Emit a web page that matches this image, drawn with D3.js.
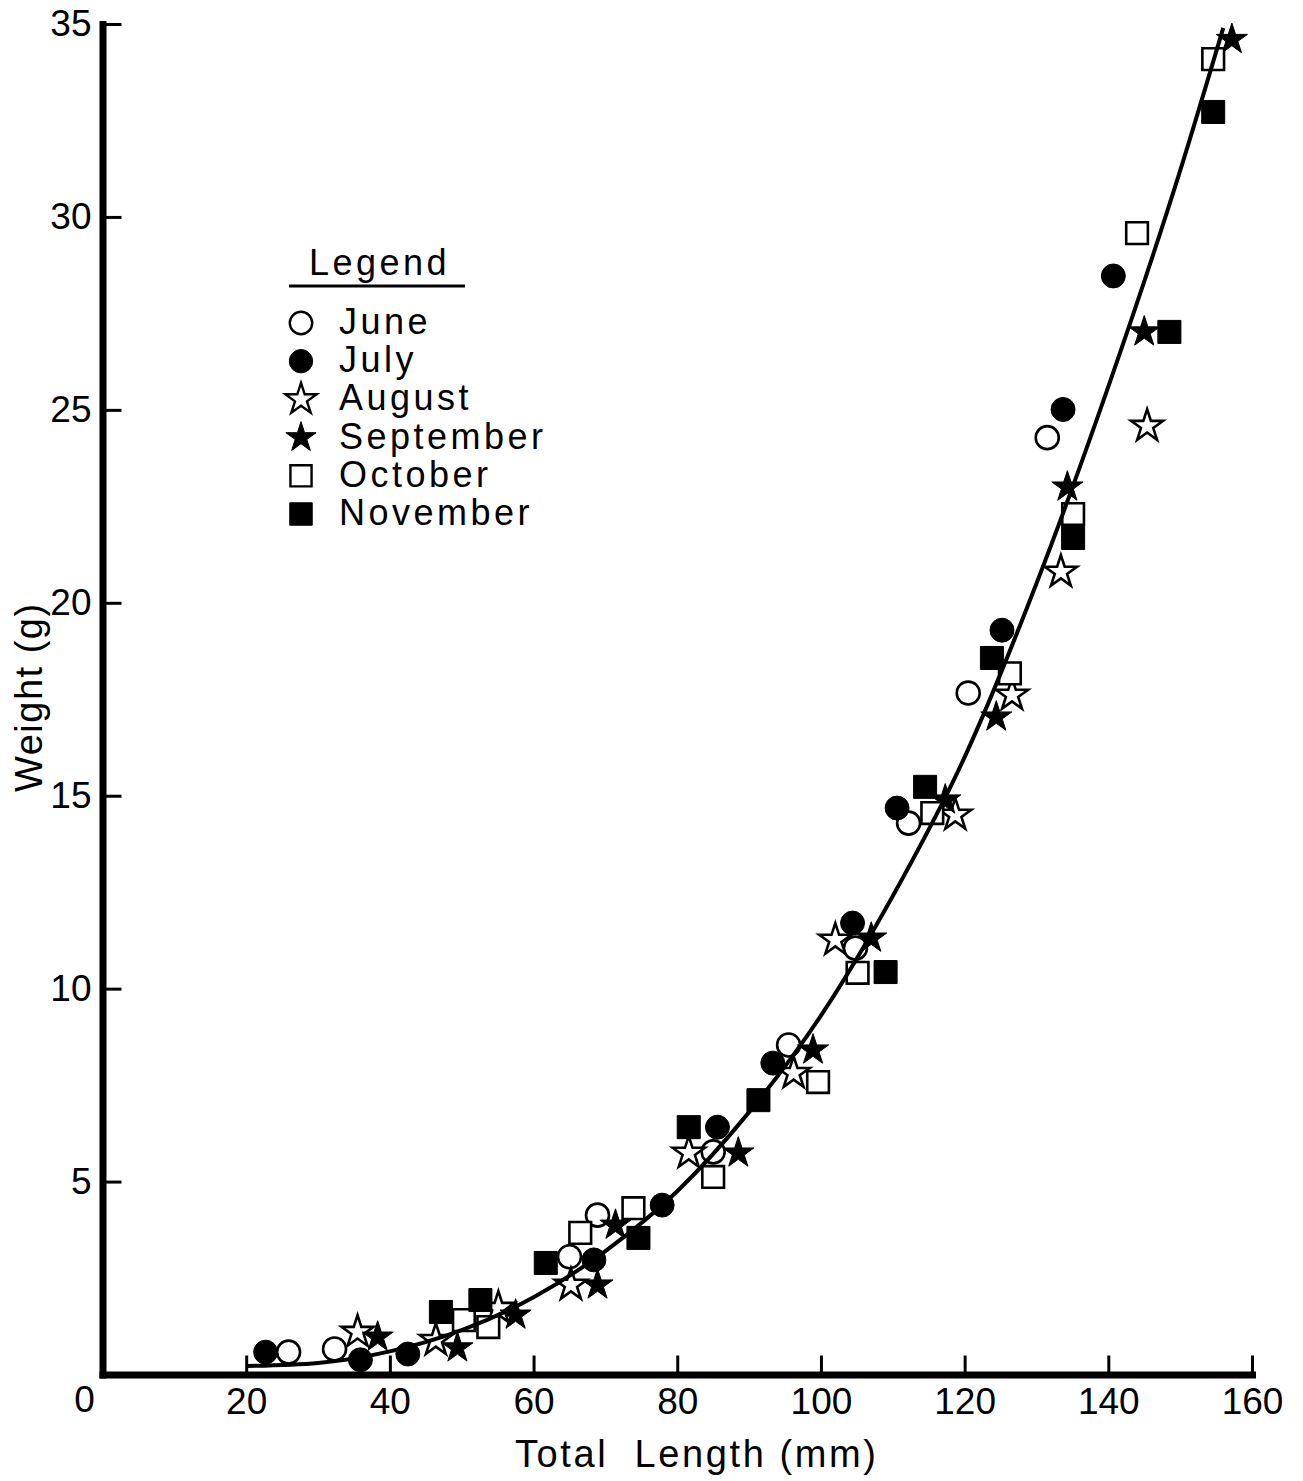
<!DOCTYPE html>
<html>
<head>
<meta charset="utf-8">
<script src="https://cdn.jsdelivr.net/npm/d3@7"></script>
<style>
  html, body { margin: 0; padding: 0; background: #fff; }
  svg { display: block; font-family: "Liberation Sans", Arial, Helvetica, sans-serif; }
</style>
</head>
<body>
<script>
// ---------- DATA ----------
const months = ["June", "July", "August", "September", "October", "November"];

const juneLength = [25.9, 32.3, 65.0, 68.9, 85.0, 95.5, 104.8, 112.2, 120.5, 131.5];
const juneWeight = [0.58, 0.66, 3.05, 4.13, 5.77, 8.54, 11.05, 14.29, 17.66, 24.28];

const julyLength = [22.7, 35.9, 42.5, 68.4, 77.9, 85.6, 93.3, 104.4, 110.6, 125.2, 133.7, 140.7];
const julyWeight = [0.58, 0.38, 0.53, 2.97, 4.39, 6.41, 8.07, 11.70, 14.68, 19.29, 25.01, 28.47];

const augustLength = [35.5, 46.4, 55.1, 65.2, 81.6, 96.2, 102.0, 118.7, 126.6, 133.4, 145.4];
const augustWeight = [1.10, 0.89, 1.72, 2.32, 5.74, 7.81, 11.26, 14.50, 17.61, 20.8, 24.58];

const septemberLength = [38.3, 49.4, 57.5, 68.9, 71.4, 88.5, 98.9, 107.0, 117.3, 124.4, 134.3, 145.0, 157.2];
const septemberWeight = [0.97, 0.69, 1.54, 2.32, 3.87, 5.74, 8.41, 11.31, 14.89, 17.04, 23.0, 27.02, 34.6];

const octoberLength = [50.3, 53.7, 66.5, 73.9, 85.0, 99.6, 105.1, 115.5, 126.3, 135.1, 144.0, 154.6];
const octoberWeight = [1.41, 1.23, 3.67, 4.31, 5.12, 7.58, 10.41, 14.55, 18.17, 22.3, 29.58, 34.09];

const novemberLength = [47.1, 52.6, 61.7, 74.6, 81.6, 91.3, 109.0, 114.5, 123.8, 135.1, 148.5, 154.6];
const novemberWeight = [1.62, 1.93, 2.89, 3.54, 6.41, 7.11, 10.43, 15.23, 18.57, 21.68, 27.02, 32.72];

// fitted curve
const fitLength = [20, 30, 40, 50, 60, 70, 80, 90, 100, 110, 120, 130, 140, 150, 156];
const fitWeight = [0.22, 0.3, 0.6, 1.15, 2.0, 3.2, 4.75, 6.8, 9.3, 12.4, 16.0, 20.5, 25.6, 31.2, 34.9];

const xTicks = [20, 40, 60, 80, 100, 120, 140, 160];
const yTicks = [5, 10, 15, 20, 25, 30, 35];

const xTitle = "Total  Length (mm)";
const yTitle = "Weight (g)";
const legendTitle = "Legend";

// ---------- STYLE ----------
const W = 1303, H = 1481;
const svg = d3.select("body").append("svg").attr("width", W).attr("height", H);
svg.append("rect").attr("width", W).attr("height", H).attr("fill", "#fff");

const x = d3.scaleLinear().domain([0, 160]).range([102.5, 1252]);
const y = d3.scaleLinear().domain([0, 35]).range([1374.5, 24]);

const series = [
  { name: months[0], L: juneLength, Wt: juneWeight, type: d3.symbolCircle, size: 415, filled: false },
  { name: months[1], L: julyLength, Wt: julyWeight, type: d3.symbolCircle, size: 450, filled: true },
  { name: months[2], L: augustLength, Wt: augustWeight, type: d3.symbolStar, size: 320, filled: false },
  { name: months[3], L: septemberLength, Wt: septemberWeight, type: d3.symbolStar, size: 300, filled: true },
  { name: months[4], L: octoberLength, Wt: octoberWeight, type: d3.symbolSquare, size: 470, filled: false },
  { name: months[5], L: novemberLength, Wt: novemberWeight, type: d3.symbolSquare, size: 530, filled: true }
];

// ---------- AXES ----------
const xAxis = d3.axisBottom(x).tickValues(xTicks).tickSize(-19).tickSizeOuter(0).tickPadding(13).tickFormat(d3.format("d"));
const gx = svg.append("g").attr("transform", `translate(0,${y(0)})`).call(xAxis);
gx.select(".domain").attr("stroke", "#000").attr("stroke-width", 7).attr("stroke-linecap", "square");
gx.selectAll(".tick line").attr("stroke", "#000").attr("stroke-width", 3);
gx.selectAll(".tick text").attr("fill", "#000").attr("font-size", 37).attr("font-family", "Liberation Sans, Arial, sans-serif");

const yAxis = d3.axisLeft(y).tickValues(yTicks).tickSize(-19).tickSizeOuter(0).tickPadding(11).tickFormat(d3.format("d"));
const gy = svg.append("g").attr("transform", `translate(${x(0)},0)`).call(yAxis);
gy.select(".domain").attr("stroke", "#000").attr("stroke-width", 7).attr("stroke-linecap", "square");
gy.selectAll(".tick line").attr("stroke", "#000").attr("stroke-width", 3);
gy.selectAll(".tick text").attr("fill", "#000").attr("font-size", 37).attr("font-family", "Liberation Sans, Arial, sans-serif");

// origin label
svg.append("text").attr("x", x(0) - 18).attr("y", 1412).attr("text-anchor", "middle")
  .attr("font-size", 37).text("0");

// axis titles
svg.append("text").attr("x", 515).attr("y", 1467).attr("font-size", 38)
  .attr("letter-spacing", 2.6).style("white-space", "pre").text(xTitle);
svg.append("text").attr("transform", "translate(42,792) rotate(-90)").attr("font-size", 38)
  .attr("letter-spacing", 1.5).text(yTitle);

// ---------- MARKERS ----------
const sym = d3.symbol();
series.forEach(s => {
  const pts = s.L.map((l, i) => [l, s.Wt[i]]);
  svg.append("g").selectAll("path").data(pts).join("path")
    .attr("transform", d => `translate(${x(d[0])},${y(d[1])})`)
    .attr("d", sym.type(s.type).size(s.size)())
    .attr("fill", s.filled ? "#000" : "#fff")
    .attr("stroke", "#000")
    .attr("stroke-width", s.filled ? 1 : 2.6)
    .attr("stroke-linejoin", "miter");
});

// ---------- FITTED CURVE ----------
const line = d3.line().x(d => x(d[0])).y(d => y(d[1])).curve(d3.curveMonotoneX);
svg.append("path").datum(fitLength.map((l, i) => [l, fitWeight[i]]))
  .attr("d", line).attr("fill", "none").attr("stroke", "#000").attr("stroke-width", 4);

// ---------- LEGEND ----------
const lg = svg.append("g");
lg.append("text").attr("x", 309).attr("y", 275).attr("font-size", 36).attr("letter-spacing", 3.5).text(legendTitle);
lg.append("line").attr("x1", 289).attr("x2", 465).attr("y1", 286).attr("y2", 286)
  .attr("stroke", "#000").attr("stroke-width", 3);
const rowY = d3.scaleLinear().domain([0, 5]).range([323, 514]);
series.forEach((s, i) => {
  lg.append("path").attr("transform", `translate(301,${rowY(i)})`)
    .attr("d", sym.type(s.type).size(s.size * 0.95)())
    .attr("fill", s.filled ? "#000" : "#fff")
    .attr("stroke", "#000").attr("stroke-width", s.filled ? 1 : 2.4);
  lg.append("text").attr("x", 339).attr("y", rowY(i) + 11).attr("font-size", 36)
    .attr("letter-spacing", 3.5).text(s.name);
});
</script>
</body>
</html>
